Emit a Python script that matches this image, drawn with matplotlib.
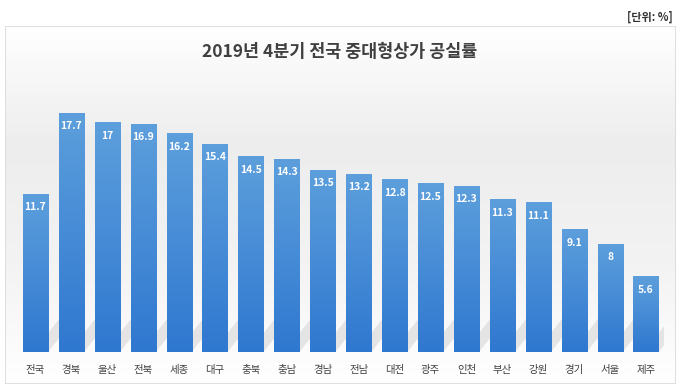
import numpy as np
import matplotlib
matplotlib.use("Agg")
import matplotlib.pyplot as plt
from matplotlib.patches import Rectangle, Polygon
from matplotlib.colors import LinearSegmentedColormap

plt.rcParams["font.family"] = ["Noto Sans CJK KR", "DejaVu Sans"]

regions = ["전국", "경북", "울산", "전북", "세종", "대구", "충북", "충남", "경남",
           "전남", "대전", "광주", "인천", "부산", "강원", "경기", "서울", "제주"]
vacancy = [11.7, 17.7, 17, 16.9, 16.2, 15.4, 14.5, 14.3, 13.5,
           13.2, 12.8, 12.5, 12.3, 11.3, 11.1, 9.1, 8, 5.6]
title = "2019년 4분기 전국 중대형상가 공실률"
unit = "[단위: %]"

fig = plt.figure(figsize=(6.8, 3.86), dpi=100)
fig.patch.set_facecolor("white")

# panel background with soft gradient
bg = fig.add_axes([0.008, 0.005, 0.986, 0.928])
bg.set_xlim(0, 1)
bg.set_ylim(0, 1)
bg.axis("off")
grad = np.linspace(0, 1, 256).reshape(-1, 1)
bg_cmap = LinearSegmentedColormap.from_list("bg", ["#ffffff", "#ededed", "#f3f3f3", "#ffffff"])
bg.imshow(grad, extent=[0, 1, 0, 1], aspect="auto", cmap=bg_cmap, origin="upper")
bg.add_patch(Rectangle((0, 0), 1, 1, fill=False, edgecolor="#d9d9d9", lw=1.2,
                       transform=bg.transAxes))

fig.text(0.99, 0.955, unit, ha="right", va="center", fontsize=8,
         fontweight="bold", color="#333333")
fig.text(0.5, 0.865, title, ha="center", va="center", fontsize=12.5,
         fontweight="bold", color="#404040")

ax = fig.add_axes([0.0257, 0.088, 0.9507, 0.70])
ax.set_facecolor("none")
x = np.arange(len(regions))
width = 0.7
ax.set_xlim(-0.5, len(regions) - 0.5)
ax.set_ylim(0, 20)

bar_cmap = LinearSegmentedColormap.from_list("bar", ["#5d9fdc", "#2f78d0"])
bars = ax.bar(x, vacancy, width=width, color="#4a8fd8", zorder=3)
for b, v in zip(bars, vacancy):
    x0 = b.get_x()
    # faint diagonal shadow
    shadow = Polygon([(x0 + width, 0.0), (x0 + width, 1.4), (x0 + width + 0.6, 3.4),
                      (x0 + width + 0.6, 2.0)], closed=True,
                     facecolor="#bdbdbd", edgecolor="none", alpha=0.35, zorder=2)
    ax.add_patch(shadow)
    im = ax.imshow(np.linspace(0, 1, 128).reshape(-1, 1), cmap=bar_cmap,
                   extent=[x0, x0 + width, 0, v], aspect="auto", origin="upper",
                   zorder=3)
    im.set_clip_path(b)
    ax.text(b.get_x() + width / 2, v - 1.0, f"{v:g}", ha="center", va="center",
            fontsize=7.5, fontweight="bold", color="white", zorder=4)

ax.set_xticks(x)
ax.set_xticklabels(regions, fontsize=7.5, color="#404040")
ax.tick_params(axis="x", length=0, pad=9)
ax.set_yticks([])
for s in ax.spines.values():
    s.set_visible(False)

fig.savefig("out.png", dpi=100)
